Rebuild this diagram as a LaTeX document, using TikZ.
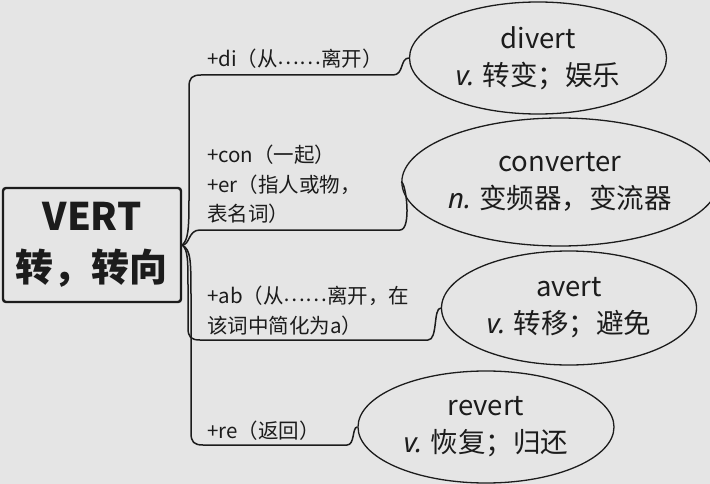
\documentclass[tikz,border=0pt]{standalone}
\usepackage{fontspec}
\setmainfont{Noto Sans CJK SC}
\newfontfamily\latinfont{Noto Sans}
\usetikzlibrary{shapes.geometric,positioning}
\definecolor{ink}{RGB}{28,28,28}
\definecolor{paper}{RGB}{229,229,229}
\tikzset{
  rootbox/.style={draw=ink, line width=2.4pt, rounded corners=3pt, fill=paper,
              minimum width=178pt, minimum height=114pt, inner sep=0pt, align=center,
              font=\fontsize{38}{51}\selectfont\bfseries, text=ink},
  word/.style={ellipse, draw=ink, line width=1.3pt, inner sep=0pt, align=center,
              font=\fontsize{27.5}{37}\selectfont, text=ink},
  affix/.style={anchor=base west, inner sep=0pt, align=left,
              font=\fontsize{20.5}{29.5}\selectfont, text=ink},
  branch/.style={draw=ink, line width=1.5pt},
}
\newcommand{\pos}[1]{{\latinfont\itshape #1}}
\newcommand{\middots}{\raisebox{2pt}{……}}

\begin{document}
\begin{tikzpicture}[x=1pt,y=-1pt]
        \fill[paper] (0,0) rectangle (710,484);
        \useasboundingbox (0,0) rectangle (710,484);
        % root
        \node[rootbox] (root) at (92,245) {\raisebox{-3pt}{VERT}\\\raisebox{-3pt}{转，转向}};
        % words
        \node[word,minimum width=257pt,minimum height=112pt] (dv) at (538,58) {divert\\\pos{v.} 转变；娱乐};
        \node[word,minimum width=285pt,minimum height=128pt] (cv) at (560,182) {converter\\\pos{n.} 变频器，变流器};
        \node[word,minimum width=255pt,minimum height=114pt] (av) at (569,308) {avert\\\pos{v.} 转移；避免};
        \node[word,minimum width=256pt,minimum height=112pt] (rv) at (486,427) {revert\\\pos{v.} 恢复；归还};
        % affixes (base = last line)
        \node[affix] (ldi) at (207,67) {+di（从\middots 离开）};
        \node[affix] (lcon) at (207,222) {+con（一起）\\+er（指人或物，\\表名词）};
        \node[affix] (lab) at (207,333) {+ab（从\middots 离开，在\\该词中简化为a）};
        \node[affix] (lre) at (207,438) {+re（返回）};
        % branches
        \draw[branch] (root.east) .. controls (188,240) and (189,230) .. (189,200) -- (189,87)
              .. controls (189,78) and (192,75) .. (201,75) -- (393,75)
              .. controls (404,75) and (400,58) .. (dv.west);
        \draw[branch] (root.east) .. controls (190,245) and (188,230) .. (200,230) -- (400,230)
              .. controls (412,230) and (406,182) .. (cv.west);
        \draw[branch] (root.east) .. controls (188,250) and (188,260) .. (188,290) -- (188,328)
              .. controls (188,337) and (191,340) .. (200,340) -- (428,340)
              .. controls (438,340) and (433,308) .. (av.west);
        \draw[branch] (root.east) .. controls (191,250) and (191,260) .. (191,300) -- (191,433)
              .. controls (191,442) and (194,445) .. (203,445) -- (347,445)
              .. controls (355,445) and (352,427) .. (rv.west);
      \end{tikzpicture}
\end{document}
